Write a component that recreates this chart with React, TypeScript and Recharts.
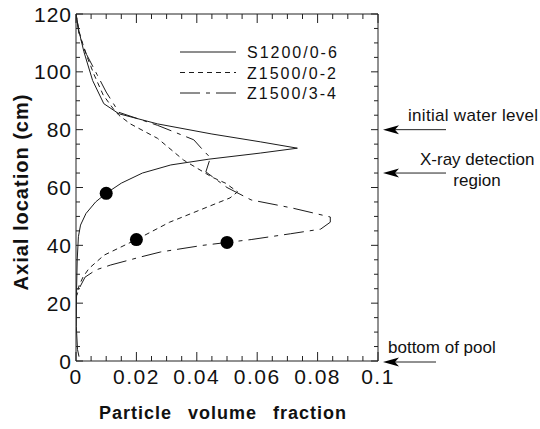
import { ComposedChart, Line, Scatter, XAxis, YAxis } from 'recharts';

// Particle volume fraction (x) vs axial location in cm (y)
const S1200_0_6 = [
  { x: 0, y: 120 }, { x: 0.001, y: 114 }, { x: 0.0026, y: 107 }, { x: 0.0055, y: 97 },
  { x: 0.0092, y: 89 }, { x: 0.0142, y: 85.5 }, { x: 0.027, y: 82 }, { x: 0.045, y: 78.5 },
  { x: 0.061, y: 75.8 }, { x: 0.0733, y: 73.6 }, { x: 0.061, y: 71.9 }, { x: 0.044, y: 69.8 },
  { x: 0.0314, y: 67.8 }, { x: 0.022, y: 65 }, { x: 0.015, y: 61.5 }, { x: 0.01, y: 58 },
  { x: 0.0065, y: 55 }, { x: 0.0033, y: 51 }, { x: 0.0015, y: 47 }, { x: 0.0008, y: 43 },
  { x: 0.0004, y: 35 }, { x: 0.0002, y: 25 }, { x: 0.0001, y: 12 }, { x: 0.0005, y: 4 },
  { x: 0.001, y: 1.5 },
];
const Z1500_0_2 = [
  { x: 0, y: 120 }, { x: 0.001, y: 114 }, { x: 0.003, y: 107 }, { x: 0.006, y: 99 },
  { x: 0.009, y: 92 }, { x: 0.0125, y: 87 }, { x: 0.0142, y: 85 }, { x: 0.018, y: 82 },
  { x: 0.027, y: 77 }, { x: 0.0356, y: 69.5 }, { x: 0.045, y: 63.6 }, { x: 0.0495, y: 61.5 },
  { x: 0.0535, y: 58.5 }, { x: 0.051, y: 56.4 }, { x: 0.031, y: 48 }, { x: 0.02, y: 42 },
  { x: 0.0093, y: 36.6 }, { x: 0.0043, y: 32 }, { x: 0.0023, y: 29 }, { x: 0.001, y: 26 },
  { x: 0, y: 22 },
];
const Z1500_3_4 = [
  { x: 0, y: 120 }, { x: 0.001, y: 113 }, { x: 0.0035, y: 106 }, { x: 0.007, y: 99 },
  { x: 0.01, y: 93 }, { x: 0.0142, y: 86 }, { x: 0.027, y: 81.5 }, { x: 0.039, y: 76.5 },
  { x: 0.042, y: 73 }, { x: 0.0445, y: 70.3 }, { x: 0.043, y: 65.4 }, { x: 0.05, y: 60 },
  { x: 0.058, y: 55.7 }, { x: 0.0716, y: 52.9 }, { x: 0.0842, y: 49.8 }, { x: 0.0842, y: 48 },
  { x: 0.081, y: 45.6 }, { x: 0.071, y: 44 }, { x: 0.058, y: 42 }, { x: 0.05, y: 41 },
  { x: 0.042, y: 40 }, { x: 0.028, y: 37.7 }, { x: 0.0215, y: 36 }, { x: 0.0115, y: 33.2 },
  { x: 0.0066, y: 31.5 }, { x: 0.003, y: 29 }, { x: 0.001, y: 25 }, { x: 0, y: 22 },
];
const MARKERS = [
  { x: 0.01, y: 58 },
  { x: 0.02, y: 42 },
  { x: 0.05, y: 41 },
];

const X_TICKS = [0, 0.005, 0.01, 0.015, 0.02, 0.025, 0.03, 0.035, 0.04, 0.045, 0.05, 0.055, 0.06, 0.065, 0.07, 0.075, 0.08, 0.085, 0.09, 0.095, 0.1];
const X_MAJOR = [0, 0.02, 0.04, 0.06, 0.08, 0.1];
const Y_TICKS = [0, 5, 10, 15, 20, 25, 30, 35, 40, 45, 50, 55, 60, 65, 70, 75, 80, 85, 90, 95, 100, 105, 110, 115, 120];
const Y_MAJOR = [0, 20, 40, 60, 80, 100, 120];

const SERIES = [
  { name: 'S1200/0-6', data: S1200_0_6, dash: undefined },
  { name: 'Z1500/0-2', data: Z1500_0_2, dash: '5 4' },
  { name: 'Z1500/3-4', data: Z1500_3_4, dash: '20 6 4 6' },
];

const ANNOTATIONS = [
  { lines: ['initial water level'], level: 80 },
  { lines: ['X-ray detection', 'region'], level: 65 },
  { lines: ['bottom of pool'], level: 0 },
];

const W = 540;
const H = 429;
const M = { top: 14, right: 162, bottom: 0, left: 0 };
const LEFT_W = 76;
const BOTTOM_H = 68;
const PLOT_TOP = M.top;
const PLOT_H = H - M.top - BOTTOM_H;
const PLOT_LEFT = LEFT_W;
const PLOT_RIGHT = W - M.right;
const PLOT_BOTTOM = PLOT_TOP + PLOT_H;
const xPix = (v: number) => PLOT_LEFT + (v / 0.1) * (PLOT_RIGHT - PLOT_LEFT);
const yPix = (v: number) => PLOT_TOP + ((120 - v) / 120) * PLOT_H;

const INK = '#1c1c1c';
const AXIS_INK = '#222';
const FONT = '"Liberation Sans", Arial, Helvetica, sans-serif';

const isMajor = (v: number, list: number[]) => list.some((m) => Math.abs(m - v) < 1e-9);

const BottomLabel = (p: any) =>
  isMajor(p.payload.value, X_MAJOR) ? (
    <text x={p.x} y={p.y + 23} textAnchor="middle" fontSize={21} letterSpacing={1.5} fill="#111" fontFamily={FONT}>
      {String(p.payload.value)}
    </text>
  ) : (
    <g />
  );

const LeftLabel = (p: any) =>
  isMajor(p.payload.value, Y_MAJOR) ? (
    <text x={p.x - 4} y={p.y + 7.5} textAnchor="end" fontSize={21} letterSpacing={1} fill="#111" fontFamily={FONT}>
      {String(p.payload.value)}
    </text>
  ) : (
    <g />
  );

const Dot = (p: any) => <circle cx={p.cx} cy={p.cy} r={6.5} fill="#000" />;

// box around the plot with inward ticks on all four sides, laid over the chart
function FrameOverlay() {
  const d: string[] = [`M${PLOT_LEFT},${PLOT_TOP}H${PLOT_RIGHT}V${PLOT_BOTTOM}`];
  X_TICKS.forEach((t) => {
    const len = isMajor(t, X_MAJOR) ? 9 : 5;
    const x = xPix(t);
    d.push(`M${x},${PLOT_BOTTOM}V${PLOT_BOTTOM - len}`, `M${x},${PLOT_TOP}V${PLOT_TOP + len}`);
  });
  Y_TICKS.forEach((t) => {
    const len = isMajor(t, Y_MAJOR) ? 7 : 4;
    const y = yPix(t);
    d.push(`M${PLOT_LEFT},${y}H${PLOT_LEFT + len}`, `M${PLOT_RIGHT},${y}H${PLOT_RIGHT - len}`);
  });
  return (
    <svg width={W} height={H} style={{ position: 'absolute', left: 0, top: 0, pointerEvents: 'none' }}>
      <path d={d.join(' ')} fill="none" stroke={AXIS_INK} strokeWidth={1} />
    </svg>
  );
}

export default function App() {
  return (
    <div style={{ position: 'absolute', left: 0, top: 0, width: W, height: H, background: '#fff' }}>
      <ComposedChart width={W} height={H} margin={M}>
        <XAxis
          type="number"
          dataKey="x"
          domain={[0, 0.1]}
          ticks={X_TICKS}
          interval={0}
          height={BOTTOM_H}
          tickSize={0}
          tickMargin={0}
          tickLine={false}
          tick={BottomLabel}
          stroke={AXIS_INK}
          allowDataOverflow
        />
        <YAxis
          type="number"
          domain={[0, 120]}
          ticks={Y_TICKS}
          interval={0}
          width={LEFT_W}
          tickSize={0}
          tickMargin={0}
          tickLine={false}
          tick={LeftLabel}
          stroke={AXIS_INK}
          allowDataOverflow
        />
        {SERIES.map((s) => (
          <Line
            key={s.name}
            data={s.data}
            dataKey="y"
            type="linear"
            stroke={INK}
            strokeWidth={1}
            strokeDasharray={s.dash}
            dot={false}
            activeDot={false}
            isAnimationActive={false}
          />
        ))}
        <Scatter data={MARKERS} dataKey="y" shape={Dot} isAnimationActive={false} />

        {/* legend */}
        <g fontFamily={FONT}>
          {SERIES.map((s, i) => (
            <g key={s.name}>
              <line x1={180} x2={236} y1={52 + i * 20.5} y2={52 + i * 20.5} stroke={INK} strokeDasharray={s.dash} />
              <text x={247} y={52 + i * 20.5 + 6} fontSize={16} letterSpacing={2} fill="#111">
                {s.name}
              </text>
            </g>
          ))}
        </g>

        {/* right-hand annotations with left-pointing arrows */}
        {ANNOTATIONS.map((a) => {
          const bottom = a.level === 0;
          const y = yPix(a.level) + (bottom ? 1 : 0);
          const tip = PLOT_RIGHT + 5;
          return (
            <g key={a.lines[0]} fontFamily={FONT} fontSize={17} fill="#111">
              <line x1={bottom ? 436 : 446} x2={tip + 10} y1={y} y2={y} stroke="#222" strokeWidth={1} />
              <path d={`M${tip},${y} L${tip + 16},${y - 4.5} L${tip + 12},${y} L${tip + 16},${y + 4.5} Z`} fill="#000" />
              {a.lines.length === 1 ? (
                <text x={bottom ? 388 : 408} y={y - 9} letterSpacing={bottom ? 0 : 0.3}>
                  {a.lines[0]}
                </text>
              ) : (
                <>
                  <text x={420} y={y - 8}>{a.lines[0]}</text>
                  <text x={477} y={y + 13} textAnchor="middle">{a.lines[1]}</text>
                </>
              )}
            </g>
          );
        })}

        {/* axis titles */}
        <text x={223} y={419} textAnchor="middle" fontFamily={FONT} fontWeight="bold" fontSize={18} letterSpacing={1} wordSpacing={10} fill="#111">
          Particle volume fraction
        </text>
        <text
          transform="translate(28,192) rotate(-90)"
          textAnchor="middle"
          fontFamily={FONT}
          fontWeight="bold"
          fontSize={20}
          letterSpacing={1}
          fill="#111"
        >
          Axial location (cm)
        </text>
      </ComposedChart>
      <FrameOverlay />
    </div>
  );
}
